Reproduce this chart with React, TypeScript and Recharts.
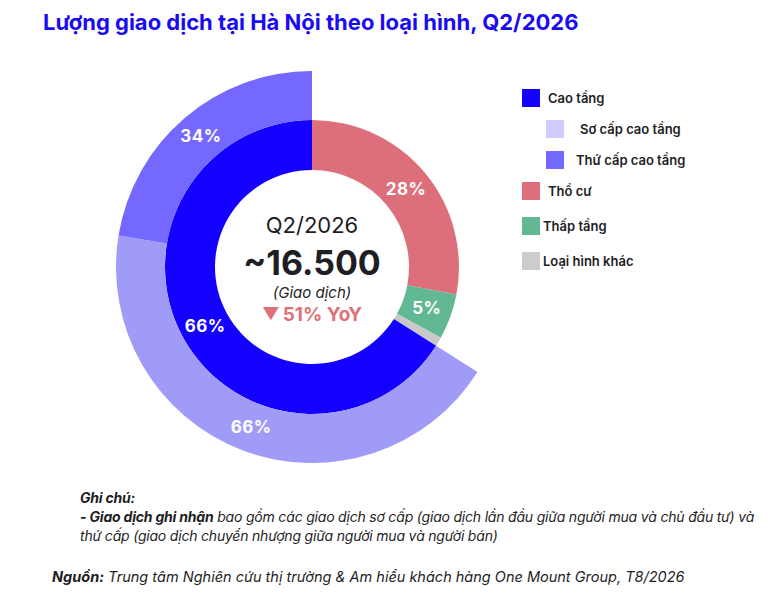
import React from 'react';
import { PieChart, Pie, Cell } from 'recharts';

const innerNames = ['Thổ cư', 'Thấp tầng', 'Loại hình khác', 'Cao tầng'];
const innerValues = [28, 5, 1, 66];
const innerColors = ['#dc6f7a', '#63b894', '#c8c8c8', '#1400ff'];

const outerNames = ['Sơ cấp cao tầng', 'Thứ cấp cao tầng'];
const outerValues = [66, 34];
const outerColors = ['#a19bf8', '#7468fe'];

const legendNames = ['Cao tầng', 'Sơ cấp cao tầng', 'Thứ cấp cao tầng', 'Thổ cư', 'Thấp tầng', 'Loại hình khác'];
const legendColors = ['#1400ff', '#d0ccff', '#7368ff', '#dc6f7a', '#63b894', '#cccccc'];
const legendIndent = [0, 24, 24, 0, 0, 0];
const legendTextX = [548, 580, 576, 548, 543, 543];
const legendY = [89, 120, 151, 182, 217, 252];

const centerPeriod = 'Q2/2026';
const centerTotal = '~16.500';
const centerUnit = '(Giao dịch)';
const centerYoY = '51% YoY';

const FONT = 'Inter, "Noto Sans", sans-serif';

const innerData = innerNames.map((n, i) => ({ name: n, value: innerValues[i] }));
const outerData = outerNames.map((n, i) => ({ name: n, value: outerValues[i] }));

const innerTotal = innerValues.reduce((a, b) => a + b, 0);
const caoTangIdx = innerNames.indexOf('Cao tầng');
const beforeCao = innerValues.slice(0, caoTangIdx).reduce((a, b) => a + b, 0);
const outerStart = 90 - (360 * beforeCao) / innerTotal;

const RAD = Math.PI / 180;

const makeLabel = (minShow: number) => (props: any) => {
  const { cx, cy, midAngle, innerRadius, outerRadius, value } = props;
  if (value < minShow) return null;
  const r = (innerRadius + outerRadius) / 2;
  const x = cx + r * Math.cos(-midAngle * RAD);
  const y = cy + r * Math.sin(-midAngle * RAD);
  return (
    <text
      x={x}
      y={y}
      fill="#ffffff"
      textAnchor="middle"
      dominantBaseline="central"
      style={{ fontFamily: FONT, fontSize: 17, fontWeight: 700, letterSpacing: 0.5 }}
    >
      {`${value}%`}
    </text>
  );
};

export default function App() {
  return (
    <div style={{ position: 'absolute', left: 0, top: 0, width: 770, height: 613, background: '#fff', fontFamily: FONT, overflow: 'hidden' }}>
      <div style={{ position: 'absolute', left: 43, top: 9, fontSize: 22, fontWeight: 700, color: '#1a0cf2', whiteSpace: 'nowrap', lineHeight: '26px' }}>
        Lượng giao dịch tại Hà Nội theo loại hình, Q2/2026
      </div>

      <div style={{ position: 'absolute', left: 0, top: 0 }}>
        <PieChart width={770} height={613} margin={{ top: 0, right: 0, bottom: 0, left: 0 }}>
          <Pie
            data={innerData}
            dataKey="value"
            cx={312}
            cy={267}
            innerRadius={97}
            outerRadius={147}
            startAngle={90}
            endAngle={-270}
            stroke="none"
            isAnimationActive={false}
            labelLine={false}
            label={makeLabel(2)}
          >
            {innerData.map((d, i) => (
              <Cell key={d.name} fill={innerColors[i]} />
            ))}
          </Pie>
          <Pie
            data={outerData}
            dataKey="value"
            cx={312}
            cy={267}
            innerRadius={147}
            outerRadius={196}
            startAngle={outerStart}
            endAngle={-270}
            stroke="none"
            isAnimationActive={false}
            labelLine={false}
            label={makeLabel(0)}
          >
            {outerData.map((d, i) => (
              <Cell key={d.name} fill={outerColors[i]} />
            ))}
          </Pie>
        </PieChart>
      </div>

      <div style={{ position: 'absolute', left: 212, width: 200, top: 210, textAlign: 'center', color: '#1e1e24' }}>
        <div style={{ fontSize: 22, fontWeight: 400, lineHeight: '30px' }}>{centerPeriod}</div>
        <div style={{ fontSize: 34, fontWeight: 700, lineHeight: '44px', marginTop: 1 }}>{centerTotal}</div>
        <div style={{ fontSize: 15, fontStyle: 'italic', lineHeight: '20px', marginTop: -2 }}>{centerUnit}</div>
        <div style={{ fontSize: 19, fontWeight: 700, color: '#e07078', lineHeight: '26px', marginTop: -2 }}>
          <span style={{ fontSize: 17, verticalAlign: 1, marginRight: 3 }}>▼</span>
          {centerYoY}
        </div>
      </div>

      {legendNames.map((n, i) => (
        <React.Fragment key={n}>
          <div
            style={{
              position: 'absolute',
              left: 522 + legendIndent[i],
              top: legendY[i],
              width: 18,
              height: 18,
              background: legendColors[i],
            }}
          />
          <div
            style={{
              position: 'absolute',
              left: legendTextX[i],
              top: legendY[i],
              height: 18,
              lineHeight: '18px',
              fontSize: 13,
              fontWeight: 600,
              color: '#1e1e24',
              whiteSpace: 'nowrap',
            }}
          >
            {n}
          </div>
        </React.Fragment>
      ))}

      <div style={{ position: 'absolute', left: 80, top: 488, fontSize: 14, letterSpacing: -0.2, fontStyle: 'italic', color: '#1e1e24', lineHeight: '19px', whiteSpace: 'nowrap' }}>
        <div style={{ fontWeight: 700 }}>Ghi chú:</div>
        <div>
          <b>- Giao dịch ghi nhận</b> bao gồm các giao dịch sơ cấp (giao dịch lần đầu giữa người mua và chủ đầu tư) và
        </div>
        <div>thứ cấp (giao dịch chuyển nhượng giữa người mua và người bán)</div>
      </div>

      <div style={{ position: 'absolute', left: 52, top: 567, fontSize: 14.5, fontStyle: 'italic', color: '#1e1e24', lineHeight: '19px', whiteSpace: 'nowrap' }}>
        <b>Nguồn:</b> Trung tâm Nghiên cứu thị trường &amp; Am hiểu khách hàng One Mount Group, T8/2026
      </div>
    </div>
  );
}
